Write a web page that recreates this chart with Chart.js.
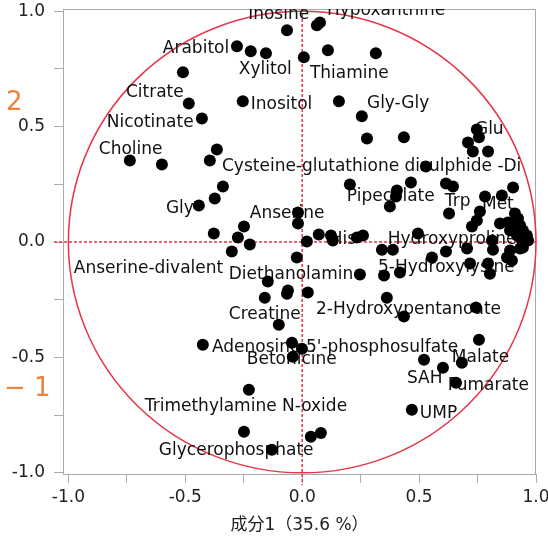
<!DOCTYPE html>
<html>
<head>
<meta charset="utf-8">
<script src="https://cdn.jsdelivr.net/npm/chart.js@4"></script>
<style>
  body { margin: 0; background: #fff; }
  canvas { display: block; }
</style>
</head>
<body>
<canvas id="loading_chart" width="548" height="541"></canvas>
<script>
// loadings (component 1 vs component 2)
var loadX = [-0.065, 0.063, 0.076, -0.279, -0.220, -0.155, 0.007, 0.110, 0.315, -0.510,
  -0.485, -0.254, 0.157, 0.255, -0.429, 0.277, 0.435, -0.365, -0.395, -0.737,
  -0.600, 0.747, 0.756, 0.709, 0.730, 0.795, 0.529, 0.204, 0.465, 0.615,
  0.645, 0.902, 0.405, 0.401, 0.375, 0.782, 0.854, 0.628, 0.760, 0.747,
  0.726, 0.846, 0.910, 0.923, 0.880, 0.902, 0.932, 0.944, 0.961, 0.932,
  0.944, 0.966, 0.889, 0.919, 0.812, 0.705, 0.816, 0.889, 0.876, 0.932,
  0.944, 0.897, 0.555, 0.615, 0.718, 0.795, 0.803, 0.495, 0.341, 0.388,
  -0.018, -0.018, 0.020, 0.071, 0.123, 0.131, 0.234, 0.260, -0.023, 0.247,
  0.350, 0.418, -0.339, -0.374, -0.442, -0.249, -0.378, -0.275, -0.224, -0.301,
  -0.147, -0.061, -0.065, -0.160, 0.024, 0.362, 0.435, 0.743, -0.100, -0.425,
  -0.044, -0.001, -0.040, 0.756, 0.521, 0.602, 0.683, 0.658, 0.469, -0.228,
  -0.249, -0.130, 0.037, 0.080];
var loadY = [0.918, 0.940, 0.952, 0.849, 0.827, 0.818, 0.801, 0.831, 0.818, 0.736,
  0.601, 0.610, 0.610, 0.545, 0.536, 0.449, 0.454, 0.401, 0.354, 0.354,
  0.336, 0.488, 0.454, 0.432, 0.393, 0.393, 0.328, 0.250, 0.258, 0.254,
  0.241, 0.237, 0.224, 0.197, 0.154, 0.197, 0.202, 0.124, 0.132, 0.093,
  0.067, 0.080, 0.124, 0.102, 0.085, 0.063, 0.072, 0.050, 0.028, 0.020,
  -0.002, 0.007, 0.050, 0.028, 0.007, -0.028, -0.033, -0.037, -0.067, -0.028,
  -0.024, -0.080, -0.067, -0.041, -0.093, -0.093, -0.137, 0.037, -0.033, -0.033,
  0.128, 0.080, 0.002, 0.033, 0.028, 0.007, 0.020, 0.028, -0.067, -0.141,
  -0.145, -0.132, 0.241, 0.189, 0.158, 0.067, 0.037, 0.020, -0.011, -0.041,
  -0.171, -0.210, -0.224, -0.241, -0.219, -0.241, -0.323, -0.284, -0.358, -0.445,
  -0.436, -0.462, -0.497, -0.423, -0.510, -0.545, -0.523, -0.610, -0.727, -0.640,
  -0.822, -0.900, -0.844, -0.827];

// metabolite names and where their text starts (data units, baseline)
var labelNames = ["Inosine", "Hypoxanthine", "Arabitol", "Xylitol", "Citrate", "Inositol",
  "Nicotinate", "Choline", "Cysteine-glutathione disulphide -Di", "Thiamine", "Gly-Gly",
  "Glu", "Pipecolate", "Trp", "Met", "Gly", "Anserine", "His", "Hydroxyproline",
  "Anserine-divalent", "Diethanolamine", "5-Hydroxylysine", "Creatine",
  "2-Hydroxypentanoate", "Adenosine 5'-phosphosulfate", "Betonicine", "Malate", "SAH",
  "Fumarate", "UMP", "Trimethylamine N-oxide", "Glycerophosphate"];
var labelX = [-0.231, 0.106, -0.596, -0.271, -0.754, -0.220, -0.836, -0.870, -0.343, 0.033,
  0.277, 0.739, 0.191, 0.610, 0.769, -0.583, -0.224, 0.118, 0.366, -0.977,
  -0.314, 0.324, -0.314, 0.059, -0.386, -0.237, 0.640, 0.448, 0.623, 0.503,
  -0.673, -0.613];
var labelY = [0.966, 0.985, 0.818, 0.727, 0.627, 0.575, 0.497, 0.380, 0.310, 0.710,
  0.579, 0.467, 0.180, 0.158, 0.145, 0.124, 0.106, -0.007, -0.007, -0.132,
  -0.158, -0.128, -0.332, -0.310, -0.475, -0.527, -0.519, -0.610, -0.640, -0.762,
  -0.731, -0.922];

var tickValues = [-1, -0.75, -0.5, -0.25, 0, 0.25, 0.5, 0.75, 1];
var xTitle = "成分1（35.6 %）";

var points = loadX.map(function (x, i) { return { x: x, y: loadY[i] }; });

var red = "rgb(232, 52, 72)";
var gray = "#aaaaaa";
var fontFamily = "'DejaVu Sans', Verdana, 'Noto Sans CJK JP', sans-serif";

function tickLabel(v) {
  if (Math.abs(v * 2 - Math.round(v * 2)) < 1e-9) return v.toFixed(1);
  return "";
}

function setTicks(scale) {
  scale.ticks = tickValues.map(function (v) { return { value: v }; });
}

var backdrop = {
  id: "backdrop",
  beforeDatasetsDraw: function (chart) {
    var ctx = chart.ctx;
    var area = chart.chartArea;
    var xs = chart.scales.x;
    var ys = chart.scales.y;
    var x0 = xs.getPixelForValue(0);
    var y0 = ys.getPixelForValue(0);

    ctx.save();
    // top and right edges of the frame
    ctx.strokeStyle = gray;
    ctx.lineWidth = 1;
    ctx.beginPath();
    ctx.moveTo(area.left, area.top + 0.5);
    ctx.lineTo(area.right - 0.5, area.top + 0.5);
    ctx.lineTo(area.right - 0.5, area.bottom);
    ctx.stroke();

    // unit circle
    ctx.strokeStyle = red;
    ctx.lineWidth = 1.5;
    ctx.beginPath();
    ctx.ellipse(x0, y0, Math.abs(xs.getPixelForValue(1) - x0), Math.abs(ys.getPixelForValue(1) - y0), 0, 0, Math.PI * 2);
    ctx.stroke();

    // dotted zero lines, running into the tick area
    ctx.setLineDash([3, 2]);
    ctx.lineWidth = 1.5;
    ctx.beginPath();
    ctx.moveTo(x0, area.top);
    ctx.lineTo(x0, area.bottom + 11);
    ctx.moveTo(area.left - 9, y0);
    ctx.lineTo(area.right, y0);
    ctx.stroke();
    ctx.setLineDash([]);

    // names, clipped to the plot
    ctx.beginPath();
    ctx.rect(area.left, area.top, area.right - area.left, area.bottom - area.top);
    ctx.clip();
    ctx.fillStyle = "#111";
    ctx.font = "17px " + fontFamily;
    ctx.textAlign = "left";
    ctx.textBaseline = "alphabetic";
    for (var i = 0; i < labelNames.length; i++) {
      ctx.fillText(labelNames[i], xs.getPixelForValue(labelX[i]), ys.getPixelForValue(labelY[i]));
    }
    ctx.restore();

    // the orange markers on the left side
    ctx.save();
    ctx.fillStyle = "rgb(238, 130, 60)";
    ctx.font = "26px " + fontFamily;
    ctx.textBaseline = "middle";
    ctx.textAlign = "left";
    ctx.fillText("2", 6, 103);
    ctx.fillText("− 1", 4, 389);
    ctx.restore();
  }
};

var chart_ctx = document.getElementById("loading_chart");
var loadingChart = new Chart(chart_ctx, {
  type: "scatter",
  data: {
    datasets: [
      {
        data: points,
        pointRadius: 6,
        pointHoverRadius: 6,
        pointBorderWidth: 0,
        backgroundColor: "#000",
        borderColor: "#000",
      },
    ],
  },
  options: {
    responsive: false,
    animation: false,
    layout: { padding: { top: 9, right: 12, left: 0, bottom: 0 } },
    plugins: {
      legend: { display: false },
      tooltip: { enabled: false },
    },
    scales: {
      x: {
        type: "linear",
        min: -1.023,
        max: 1.0,
        afterBuildTicks: setTicks,
        afterFit: function (scale) {
          scale.height = 67;
          scale.paddingLeft = 0;
          scale.paddingRight = 0;
        },
        grid: { drawOnChartArea: false, drawTicks: true, tickLength: 9, color: gray },
        border: { color: gray },
        ticks: {
          autoSkip: false,
          maxRotation: 0,
          padding: 4,
          color: "#222",
          font: { family: fontFamily, size: 17 },
          callback: tickLabel,
        },
        title: {
          display: true,
          text: xTitle,
          color: "#222",
          padding: { top: 0, bottom: 5 },
          font: { family: fontFamily, size: 17 },
        },
      },
      y: {
        type: "linear",
        min: -1.005,
        max: 1.01,
        afterBuildTicks: setTicks,
        afterFit: function (scale) {
          scale.width = 63;
          scale.paddingTop = 0;
          scale.paddingBottom = 0;
        },
        grid: { drawOnChartArea: false, drawTicks: true, tickLength: 9, color: gray },
        border: { color: gray },
        ticks: {
          autoSkip: false,
          padding: 9,
          color: "#222",
          font: { family: fontFamily, size: 17 },
          callback: tickLabel,
        },
      },
    },
  },
  plugins: [backdrop],
});
</script>
</body>
</html>
